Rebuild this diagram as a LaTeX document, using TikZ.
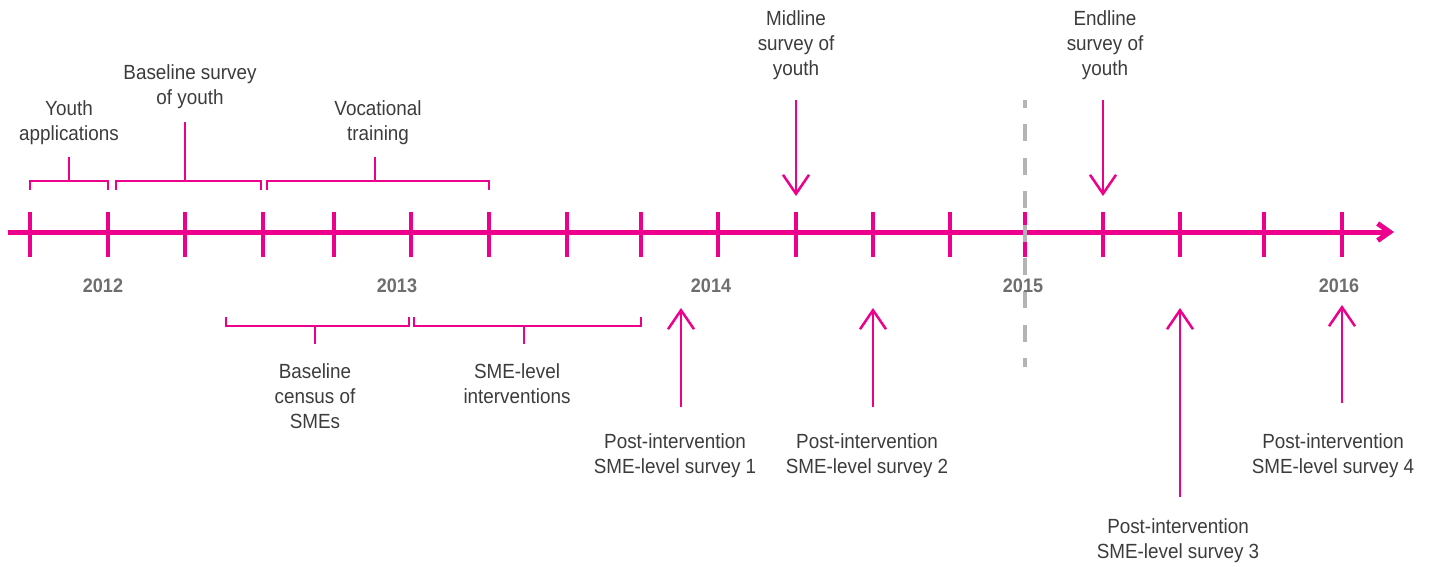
\documentclass[tikz,border=0pt]{standalone}
\usepackage{fontspec}
\setmainfont{Liberation Sans}[FakeStretch=0.92]
\usetikzlibrary{arrows.meta}
\definecolor{mag}{HTML}{EC008C}
\definecolor{txt}{HTML}{3C3C3C}
\definecolor{yr}{HTML}{6E6E70}
\definecolor{dgray}{HTML}{B4B4B6}
\begin{document}
\begin{tikzpicture}[x=1pt,y=-1pt,
  lbl/.style={align=center, text=txt, font=\fontsize{20.5}{25}\selectfont, inner sep=0pt},
  yrlbl/.style={text=yr, font=\fontsize{19.6}{24}\selectfont\bfseries, inner sep=0pt},
  tk/.style={draw=mag, line width=3.5pt},
  br/.style={draw=mag, line width=2.5pt},
  arr/.style={draw=mag, line width=2.5pt, -{Straight Barb[length=19pt,width=26pt,line width=2.5pt]}},
  axis/.style={draw=mag, line width=5pt, -{Straight Barb[length=12pt,width=17pt,line width=5pt]}},
  divider/.style={draw=dgray, line width=4pt, dash pattern=on 17pt off 16.4pt, dash phase=9pt}]
\useasboundingbox (0,0) rectangle (1429,566);

% axis
\coordinate (axL) at (8,232);
\coordinate (axR) at (1394,232);
\draw[axis] (axL) -- (axR);
\foreach \x in {30,108,185,263,334,411,489,567,641,718,796,873,950,1025,1103,1180,1264,1342}
  \draw[tk] (\x,212) -- (\x,257);

% divider
\coordinate (dvT) at (1025,100);
\coordinate (dvB) at (1025,367);
\draw[divider] (dvT) -- (dvB);

% years
\node[yrlbl] (y2012) at (103,286) {2012};
\node[yrlbl] (y2013) at (397,286) {2013};
\node[yrlbl] (y2014) at (711,286) {2014};
\node[yrlbl] (y2015) at (1023,286) {2015};
\node[yrlbl] (y2016) at (1339,286) {2016};

% top brackets
\draw[br] (30,190) -- (30,181) -- (108,181) -- (108,190);
\draw[br] (69,181) -- (69,157);
\draw[br] (116,190) -- (116,181) -- (261,181) -- (261,190);
\draw[br] (185,181) -- (185,122);
\draw[br] (267,190) -- (267,181) -- (489,181) -- (489,190);
\draw[br] (375,181) -- (375,157);

\node[lbl] (ya) at (69,123) {Youth\\applications};
\node[lbl] (bs) at (190,87) {Baseline survey\\of youth};
\node[lbl] (vt) at (378,123) {Vocational\\training};

% bottom brackets
\draw[br] (226,317) -- (226,326) -- (409,326) -- (409,317);
\draw[br] (315,326) -- (315,344);
\draw[br] (414,317) -- (414,326) -- (641,326) -- (641,317);
\draw[br] (524,326) -- (524,344);

\node[lbl] (bc) at (315,396) {Baseline\\census of\\SMEs};
\node[lbl] (si) at (517,384) {SME-level\\interventions};

% midline / endline
\node[lbl] (mid) at (796,45) {Midline\\survey of\\youth};
\node[lbl] (end) at (1105,45) {Endline\\survey of\\youth};
\coordinate (m1) at (796,100); \coordinate (m2) at (796,196);
\coordinate (e1) at (1103,100); \coordinate (e2) at (1103,196);
\draw[arr] (m1) -- (m2);
\draw[arr] (e1) -- (e2);

% post-intervention surveys
\node[lbl] (p1) at (675,456) {Post-intervention\\SME-level survey 1};
\node[lbl] (p2) at (867,456) {Post-intervention\\SME-level survey 2};
\node[lbl] (p3) at (1178,541) {Post-intervention\\SME-level survey 3};
\node[lbl] (p4) at (1333,456) {Post-intervention\\SME-level survey 4};
\coordinate (a1) at (681,407); \coordinate (b1) at (681,308);
\coordinate (a2) at (873,407); \coordinate (b2) at (873,308);
\coordinate (a3) at (1180,497); \coordinate (b3) at (1180,308);
\coordinate (a4) at (1342,403); \coordinate (b4) at (1342,305);
\draw[arr] (a1) -- (b1);
\draw[arr] (a2) -- (b2);
\draw[arr] (a3) -- (b3);
\draw[arr] (a4) -- (b4);
\end{tikzpicture}
\end{document}
